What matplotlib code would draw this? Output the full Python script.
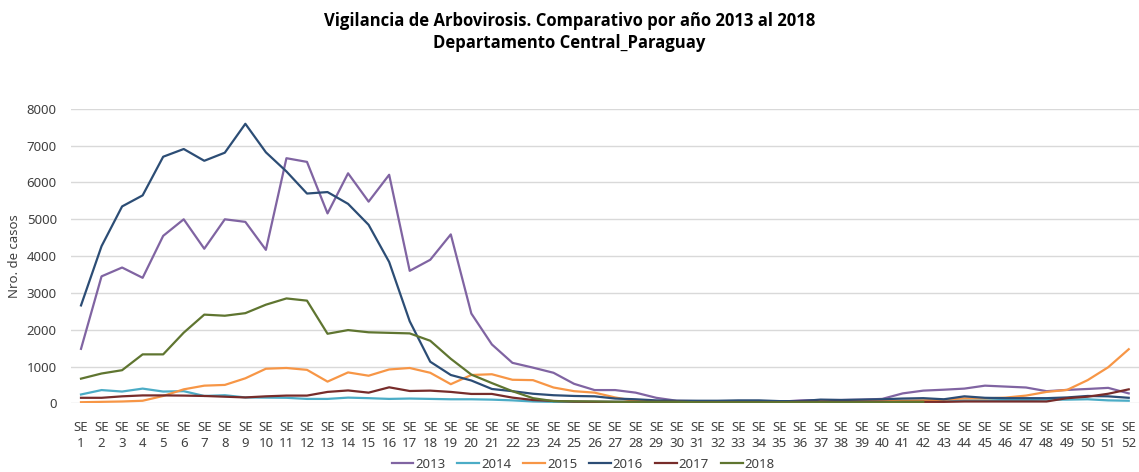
import matplotlib
matplotlib.use("Agg")
import matplotlib.pyplot as plt

weeks = list(range(1, 53))
tick_labels = [f"SE\n{w}" for w in weeks]

y2013 = [1480, 3450, 3690, 3410, 4550, 5000, 4200, 5000, 4930, 4170, 6660, 6560, 5160, 6250, 5480, 6210,
         3600, 3900, 4590, 2440, 1600, 1100, 970, 830, 530, 360, 360, 290, 150, 70, 60, 50, 50, 50, 40, 80,
         90, 90, 100, 120, 270, 345, 370, 400, 480, 455, 430, 330, 365, 390, 420, 270]
y2014 = [240, 360, 320, 400, 320, 330, 200, 220, 160, 155, 150, 120, 120, 155, 140, 120, 130, 120, 110, 110,
         100, 80, 50, 40, 40, 40, 40, 40, 30, 30, 30, 30, 30, 30, 30, 40, 50, 50, 60, 60, 70, 70, 70, 80, 80,
         90, 90, 100, 100, 110, 80, 70]
y2015 = [30, 40, 50, 70, 200, 380, 480, 500, 680, 940, 960, 910, 590, 840, 750, 920, 960, 830, 520, 770, 790,
         640, 630, 430, 330, 290, 160, 60, 50, 50, 50, 40, 40, 40, 50, 60, 60, 60, 70, 70, 70, 80, 100, 135,
         135, 155, 210, 310, 365, 630, 980, 1470]
y2016 = [2660, 4270, 5350, 5650, 6700, 6910, 6590, 6810, 7595, 6820, 6300, 5700, 5740, 5420, 4850, 3840, 2230,
         1130, 770, 620, 390, 330, 260, 220, 200, 190, 130, 110, 80, 70, 70, 70, 80, 80, 60, 60, 100, 90, 100,
         110, 130, 140, 110, 190, 150, 140, 140, 140, 160, 200, 190, 150]
y2017 = [150, 150, 190, 215, 215, 210, 200, 180, 160, 190, 210, 210, 310, 350, 290, 435, 335, 345, 310, 255,
         255, 155, 90, 65, 45, 40, 40, 40, 40, 40, 30, 30, 30, 30, 30, 40, 40, 40, 40, 40, 40, 40, 40, 50, 50,
         50, 50, 50, 140, 180, 260, 380]
y2018 = [670, 810, 900, 1330, 1330, 1920, 2410, 2380, 2450, 2680, 2850, 2790, 1890, 1990, 1930, 1915, 1900,
         1700, 1210, 780, 550, 330, 140, 60, 55, 50, 40, 40, 40, 40, 30, 30, 30, 30, 30, 30, 30, 30, 30, 30,
         40, 40]

series = [("2013", y2013, "#8064A2"), ("2014", y2014, "#4BACC6"), ("2015", y2015, "#F79646"),
          ("2016", y2016, "#2C4D75"), ("2017", y2017, "#772C2A"), ("2018", y2018, "#5F7530")]

plt.rcParams['font.family'] = ['Noto Sans', 'DejaVu Sans']
fig = plt.figure(figsize=(11.39, 4.72), dpi=100)
ax = fig.add_axes([0.0621, 0.1455, 0.9379, 0.6238])

for name, vals, col in series:
    ax.plot(weeks[:len(vals)], vals, color=col, lw=1.6, label=name, solid_joinstyle='round')

ax.set_xlim(0.5, 52.5)
ax.set_ylim(0, 8000)
ax.set_yticks(range(0, 8001, 1000))
ax.set_xticks(weeks)
ax.set_xticklabels(tick_labels, fontsize=9.5, color='#404040', linespacing=1.3)
ax.tick_params(axis='y', labelsize=9.5, labelcolor='#404040', length=0, pad=10)
ax.tick_params(axis='x', length=0, pad=13)
ax.grid(axis='y', color='#D9D9D9', lw=1)
ax.set_axisbelow(True)
for s in ax.spines.values():
    s.set_visible(False)
ax.set_ylabel("Nro. de casos", fontsize=9.5, color='#404040', labelpad=4)

title_font = ['Open Sans', 'DejaVu Sans']
fig.text(0.5, 0.955, "Vigilancia de Arbovirosis. Comparativo por año 2013 al 2018",
         ha='center', va='center', fontsize=12, fontweight='bold', color='black', family=title_font)
fig.text(0.5, 0.909, "Departamento Central_Paraguay",
         ha='center', va='center', fontsize=12, fontweight='bold', color='black', family=title_font)

fig.legend(loc='center', bbox_to_anchor=(0.512, 0.016), ncol=6, frameon=False, fontsize=9.5,
           handlelength=1.65, columnspacing=0.9, handletextpad=0.15, labelcolor='#404040')

fig.savefig("out.png", dpi=100)
